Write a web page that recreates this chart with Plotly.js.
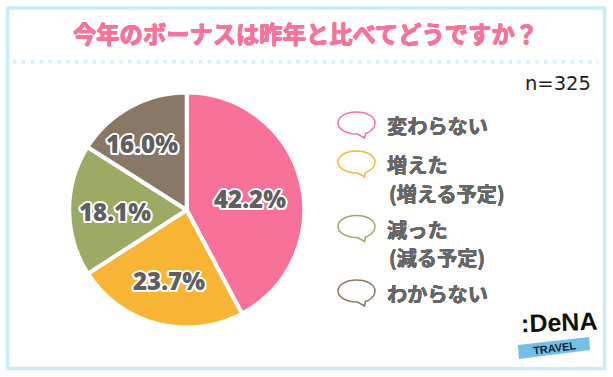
<!DOCTYPE html>
<html><head><meta charset="utf-8">
<script src="https://cdn.plot.ly/plotly-3.0.1.min.js"></script>
<style>html,body{margin:0;padding:0;background:#fff}</style></head>
<body><div id="c" style="width:613px;height:377px"></div>
<script>
const categories=['変わらない','増えた（増える予定）','減った（減る予定）','わからない'];
const values=[42.2,23.7,18.1,16.0];
const colors=['#f87198','#f8b535','#9daa66','#8a7866'];
const legendLines=[['変わらない'],['増えた','(増える予定)'],['減った','(減る予定)'],['わからない']];
const W=613,H=377;
const px=x=>x/W, py=y=>1-y/H;
function P(x,y){return px(x).toFixed(5)+','+py(y).toFixed(5);}
function bubble(cx,cy){
  const rx=18.5,ry=11,k=0.5523;
  return 'M'+P(cx-rx,cy)+
   'C'+P(cx-rx,cy-ry*k)+' '+P(cx-rx*k,cy-ry)+' '+P(cx,cy-ry)+
   'C'+P(cx+rx*k,cy-ry)+' '+P(cx+rx,cy-ry*k)+' '+P(cx+rx,cy)+
   'C'+P(cx+rx,cy+ry*.6)+' '+P(cx+rx*.6,cy+ry*.9)+' '+P(cx+9,cy+ry-.5)+
   'L'+P(cx+8,cy+ry+4)+'L'+P(cx+1,cy+ry)+
   'C'+P(cx-rx*k,cy+ry)+' '+P(cx-rx,cy+ry*k)+' '+P(cx-rx,cy)+'Z';
}
const shapes=[
 {type:'rect',xref:'paper',yref:'paper',x0:px(7.5),x1:px(604.5),y0:py(8),y1:py(368.5),line:{color:'#c9ecf8',width:3.5},fillcolor:'rgba(0,0,0,0)'},
 {type:'line',xref:'paper',yref:'paper',x0:px(13),x1:px(598),y0:py(61.7),y1:py(61.7),line:{color:'#d3eff9',width:3.5,dash:'3.5px,5.35px'}},
 {type:'path',xref:'paper',yref:'paper',path:'M'+P(518,345)+'L'+P(589,337)+'L'+P(590,350)+'L'+P(519,359)+'Z',fillcolor:'#73bfe6',line:{width:0}}
];
const bubbleY=[123,162,226.5,291];
bubbleY.forEach((y,i)=>shapes.push({type:'path',xref:'paper',yref:'paper',path:bubble(356.5,y),fillcolor:'#fff',line:{color:colors[i],width:1.5}}));
const ann=(t,x,y,o)=>Object.assign({text:t,xref:'paper',yref:'paper',x:px(x),y:py(y),showarrow:false,xanchor:'left',yanchor:'middle',borderpad:0},o);
const jp='"Noto Sans CJK JP","Noto Sans",sans-serif';
const thick=(c,d)=>`${d}px 0 ${c},-${d}px 0 ${c},0 ${d}px ${c},0 -${d}px ${c}`;
const annotations=[
 ann('<b>今年のボーナスは昨年と比べてどうですか？</b>',305,33,{xanchor:'center',font:{family:jp,size:23.3,color:'#f6739a',shadow:thick('#f6739a',0.5)}}),
 ann('n=325',592,83,{xanchor:'right',font:{family:'"DejaVu Sans",sans-serif',size:19.5,color:'#222'}}),
 ann('<b>:DeNA</b>',520,322,{textangle:-2,font:{family:'"Liberation Sans",sans-serif',size:25,color:'#111'}}),
 ann('<b>TRAVEL</b>',554,348,{xanchor:'center',textangle:-7,font:{family:'"Liberation Sans","Open Sans",sans-serif',size:11,color:'#123'}})
];
const lineY=[[125],[164,193],[229,257],[293]];
legendLines.forEach((ls,i)=>ls.forEach((t,j)=>{
  annotations.push(ann('<b>'+t+'</b>',t[0]==='('?388:386,lineY[i][j],{font:{family:jp,size:20.2,color:'#666',shadow:thick('#666',0.3)}}));
}));
const cx=186.7,cy=210,R=117.5;
const labelRadius=[65,72,72,81];
const labelAngleShift=[3,0,0,-5];
const total=values.reduce((a,b)=>a+b,0);
let cum=0;
values.forEach((v,i)=>{
  const mid=(cum+v/2)/total*2*Math.PI+labelAngleShift[i]*Math.PI/180; cum+=v;
  annotations.push(ann(v.toFixed(1)+'%',cx+labelRadius[i]*Math.sin(mid),cy+1-labelRadius[i]*Math.cos(mid),{xanchor:'center',
    font:{family:'"Open Sans","Noto Sans",sans-serif',size:24,weight:800,color:'#5f5f5f',
    shadow:'2px 0 #fff,-2px 0 #fff,0 2px #fff,0 -2px #fff,1.5px 1.5px #fff,-1.5px -1.5px #fff,1.5px -1.5px #fff,-1.5px 1.5px #fff'}}));
});
const data=[{type:'pie',labels:categories,values:values,sort:false,direction:'clockwise',rotation:0,
 marker:{colors:colors,line:{color:'#fff',width:4}},
 textinfo:'none',
 hoverinfo:'none',showlegend:false,
 domain:{x:[px(cx-R),px(cx+R)],y:[py(cy+R),py(cy-R)]}}];
Plotly.newPlot('c',data,{width:W,height:H,margin:{l:0,r:0,t:0,b:0},paper_bgcolor:'#fff',showlegend:false,shapes,annotations},{displayModeBar:false,staticPlot:true});
</script></body></html>
